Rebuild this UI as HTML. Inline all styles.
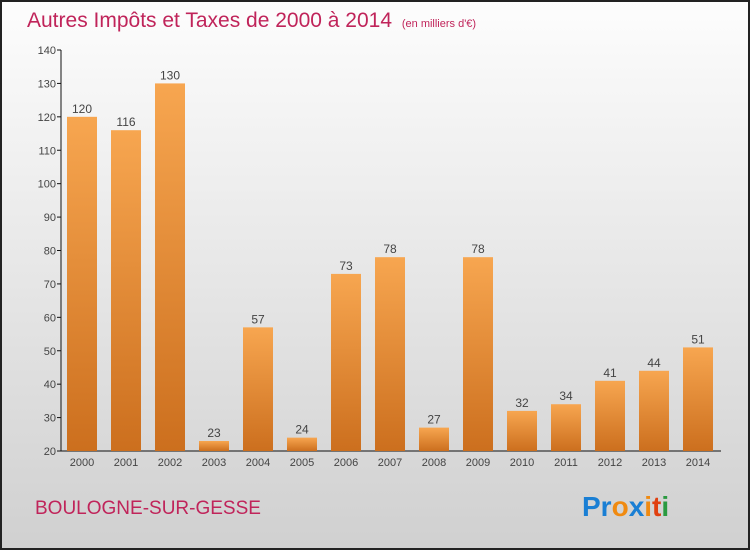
<!DOCTYPE html>
<html><head><meta charset="utf-8"><style>
body{margin:0;width:750px;height:550px;overflow:hidden;font-family:"Liberation Sans",sans-serif}
</style></head><body>
<svg width="750" height="550" xmlns="http://www.w3.org/2000/svg">
<defs>
<linearGradient id="bg" x1="0" y1="0" x2="0" y2="1"><stop offset="0" stop-color="#fdfdfd"/><stop offset="1" stop-color="#d0d0d0"/></linearGradient>
<linearGradient id="bar" x1="0" y1="0" x2="0" y2="1"><stop offset="0" stop-color="#f7a650"/><stop offset="1" stop-color="#cc6f1e"/></linearGradient>
</defs>
<rect x="1" y="1" width="748" height="548" fill="url(#bg)" stroke="#222" stroke-width="2"/>
<text x="27" y="27" font-size="21" fill="#c0245a">Autres Impôts et Taxes de 2000 à 2014 <tspan font-size="11" dx="4">(en milliers d'€)</tspan></text>
<g id="axes"></g><g id="bars"></g>
<text x="35" y="514" font-size="19" fill="#c0245a">BOULOGNE-SUR-GESSE</text>
<text x="582" y="516" font-size="28" font-weight="bold"><tspan fill="#1a7fd4">Pr</tspan><tspan fill="#f08a10">o</tspan><tspan fill="#1a7fd4">x</tspan><tspan fill="#f08a10">i</tspan><tspan fill="#e04010">t</tspan><tspan fill="#2a9a40">i</tspan></text>
</svg>
<script>
const years=["2000","2001","2002","2003","2004","2005","2006","2007","2008","2009","2010","2011","2012","2013","2014"];
const values=[120,116,130,23,57,24,73,78,27,78,32,34,41,44,51];
const yTicks=[20,30,40,50,60,70,80,90,100,110,120,130,140];
const NS="http://www.w3.org/2000/svg";
const y0=451,y1=50,vmin=20,vmax=140;
const ys=v=>y0-(v-vmin)/(vmax-vmin)*(y0-y1);
const xs=i=>82+i*44;
function mk(t,a,p){const e=document.createElementNS(NS,t);for(const k in a)e.setAttribute(k,a[k]);p.appendChild(e);return e;}
const ax=document.getElementById('axes'),bg=document.getElementById('bars');
const yl=mk('line',{x1:61,y1:y1,x2:61,y2:y0,stroke:'#111'},ax);


const xl=mk('line',{x1:61,y1:y0,x2:721,y2:y0,stroke:'#111'},ax);


yTicks.forEach(v=>{
 mk('line',{x1:57,x2:61,y1:ys(v),y2:ys(v),stroke:'#111'},ax);
 const t=mk('text',{x:56,y:ys(v)+4,'font-size':11,fill:'#444','text-anchor':'end'},ax);
 t.textContent=v;
 
 
});
values.forEach((v,i)=>{
 const r=mk('rect',{x:xs(i)-15,y:ys(v),width:30,height:y0-ys(v),fill:'url(#bar)'},bg);
 
 
 const t=mk('text',{x:xs(i),y:ys(v)-4,'font-size':12,fill:'#444','text-anchor':'middle'},bg);
 t.textContent=v;
 
 
 const l=mk('text',{x:xs(i),y:466,'font-size':11,fill:'#444','text-anchor':'middle'},bg);
 l.textContent=years[i];
 
 
});
</script>
</body></html>
